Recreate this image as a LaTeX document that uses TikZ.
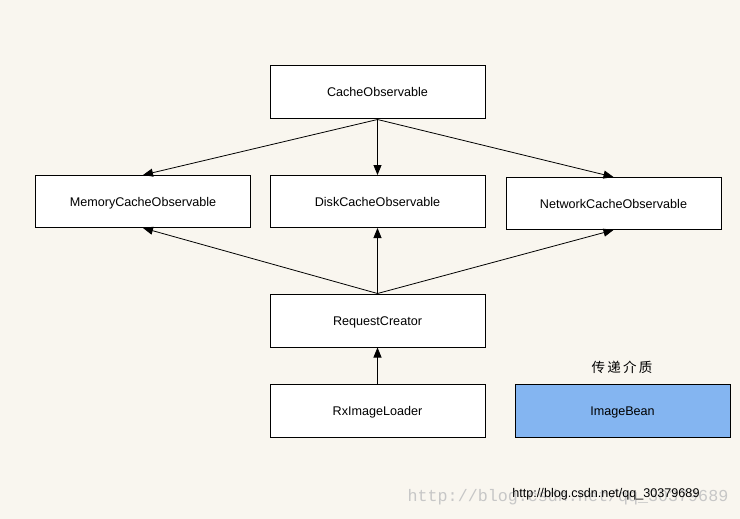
\documentclass[tikz,border=0pt]{standalone}
\usepackage{fontspec}
\setmainfont{Liberation Sans}
\newfontfamily\cjk{Noto Sans CJK SC}
\newfontfamily\wmfont{Liberation Mono}
\usetikzlibrary{arrows.meta}
\definecolor{paper}{RGB}{249,246,239}
\definecolor{beanblue}{RGB}{132,181,241}
\begin{document}
\begin{tikzpicture}[x=1pt,y=-1pt,
	box/.style={draw,fill=white,line width=1pt,minimum width=215pt,minimum height=53pt,inner sep=0pt,text height=9pt,text depth=0pt,font=\fontsize{12.6}{14}\selectfont},
	arr/.style={-{Triangle[length=10pt,width=8pt]},line width=0.8pt}]
	\fill[paper] (0,0) rectangle (740,519);
	\node[box] (cache) at (377.5,92.5) {CacheObservable};
	\node[box,minimum height=52pt] (memory) at (143,201.5) {MemoryCacheObservable};
	\node[box,minimum height=52pt] (disk) at (377.5,201.5) {DiskCacheObservable};
	\node[box,minimum height=52pt] (network) at (613.5,203.5) {NetworkCacheObservable};
	\node[box] (request) at (377.5,320.5) {RequestCreator};
	\node[box] (loader) at (377.5,410.5) {RxImageLoader};
	\node[box,fill=beanblue] (bean) at (622.5,410.5) {ImageBean};
	\node[font=\cjk\fontsize{13.5}{15}\selectfont] (medium) at (622,367.5) {传\,递\,介\,质};
	\draw[arr] (cache.south) -- (memory.north);
	\draw[arr] (cache.south) -- (disk.north);
	\draw[arr] (cache.south) -- (network.north);
	\draw[arr] (request.north) -- (memory.south);
	\draw[arr] (request.north) -- (disk.south);
	\draw[arr] (request.north) -- (network.south);
	\draw[arr] (loader.north) -- (request.south);
	\node[text=black!22,font=\wmfont\fontsize{16.7}{18}\selectfont] (mark) at (568,497.5) {http://blog.csdn.net/qq\_30379689};
	\node[font=\fontsize{12.6}{14}\selectfont] (url) at (606,494) {http://blog.csdn.net/qq\_30379689};
\end{tikzpicture}
\end{document}
